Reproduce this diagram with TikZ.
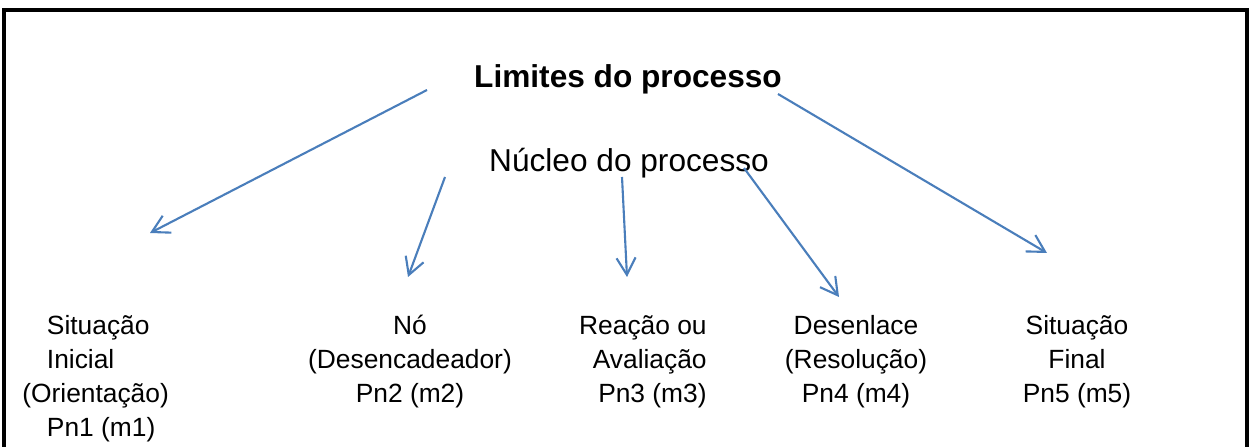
\documentclass[tikz,border=0pt]{standalone}
\usepackage{fontspec}
\setmainfont{Liberation Sans}
\usetikzlibrary{arrows.meta}
\definecolor{seta}{RGB}{74,126,187}
\begin{document}
\begin{tikzpicture}[seta/.style={draw=seta,line width=1.2pt,-{Straight Barb[length=3.4mm,width=3.8mm,line width=1.2pt]}},
rotulo/.style={inner sep=0pt,font=\fontsize{15}{19.3}\selectfont},
titulo/.style={inner sep=0pt,font=\fontsize{18}{22}\selectfont}]
\useasboundingbox (0,0) rectangle (25,8.92);
\draw[line width=2pt] (0.08,-0.2) -- (0.08,8.72) -- (24.94,8.72) -- (24.94,-0.2);
\node[titulo,anchor=base,font=\fontsize{18}{22}\selectfont\bfseries] (limites) at (12.56,7.16) {Limites do processo};
\node[titulo,anchor=base] (nucleo) at (12.58,5.48) {Núcleo do processo};
\node[rotulo,anchor=north west,align=left] (pn1) at (0.44,2.62) {\hspace*{14pt}Situação\\\hspace*{14pt}Inicial\\(Orientação)\\\hspace*{14pt}Pn1 (m1)};
\node[rotulo,anchor=north,align=center] (pn2) at (8.2,2.62) {Nó\\(Desencadeador)\\Pn2 (m2)};
\node[rotulo,anchor=north east,align=right] (pn3) at (14.14,2.62) {Reação ou\\Avaliação\\Pn3 (m3)};
\node[rotulo,anchor=north,align=center] (pn4) at (17.12,2.62) {Desenlace\\(Resolução)\\Pn4 (m4)};
\node[rotulo,anchor=north,align=center] (pn5) at (21.54,2.62) {Situação\\Final\\Pn5 (m5)};
\coordinate (s1) at (8.54,7.12);
\coordinate (t1) at (3.00,4.26);
\coordinate (s2) at (8.90,5.38);
\coordinate (t2) at (8.16,3.38);
\coordinate (s3) at (12.44,5.38);
\coordinate (t3) at (12.54,3.38);
\coordinate (s4) at (14.88,5.56);
\coordinate (t4) at (16.78,2.98);
\coordinate (s5) at (15.56,7.04);
\coordinate (t5) at (20.94,3.86);
\foreach \i in {1,...,5}
  \draw[seta] (s\i) -- (t\i);
\end{tikzpicture}
\end{document}
